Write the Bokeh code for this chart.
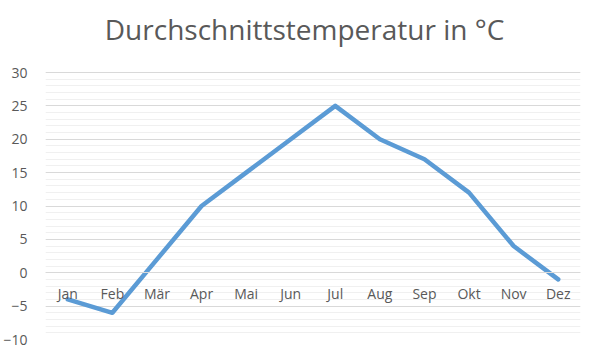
from bokeh.plotting import figure
from bokeh.models import Range1d, FactorRange, FixedTicker, Label
from bokeh.embed import file_html
from bokeh.resources import INLINE

months = ["Jan", "Feb", "Mär", "Apr", "Mai", "Jun", "Jul", "Aug", "Sep", "Okt", "Nov", "Dez"]
temps = [-4, -6, 2, 10, 15, 20, 25, 20, 17, 12, 4, -1]
title_text = "Durchschnittstemperatur in °C"
y_ticks = [-10, -5, 0, 5, 10, 15, 20, 25, 30]
y_min, y_max = -10, 30

FONT = "Open Sans"
TXT = "#595959"

W, H = 597, 357
BL, BR, BB = 43, 17, 18
TOP_GAP = 72          # pixels between canvas top and the 30 line
AXIS_PX = 267         # pixels spanned by -10..30
units_per_px = (y_max - y_min) / AXIS_PX
y_top = y_max + TOP_GAP * units_per_px

p = figure(width=W, height=H, output_backend="svg", toolbar_location=None,
           x_range=FactorRange(*months, range_padding=0), y_range=Range1d(y_min, y_top),
           min_border_left=BL, min_border_right=BR, min_border_top=0, min_border_bottom=BB)
p.outline_line_color = None
p.background_fill_color = "white"
p.border_fill_color = "white"

# title, placed in the space above the 30 line, centred on the chart
p.add_layout(Label(x=(303 - BL) / ((W - BL - BR) / len(months)),
                   y=y_max + 44 * units_per_px,
                   text=title_text, text_align="center", text_baseline="alphabetic",
                   text_font=FONT, text_font_size="28px", text_color=TXT))

p.line(x=months, y=temps, line_color="#5B9BD5", line_width=4.5,
       line_cap="round", line_join="round")

ya = p.yaxis[0]
ya.ticker = FixedTicker(ticks=y_ticks, minor_ticks=list(range(y_min, y_max + 1)))
ya.axis_line_color = None
ya.major_tick_line_color = None
ya.minor_tick_line_color = None
ya.major_label_text_font = FONT
ya.major_label_text_font_size = "14px"
ya.major_label_text_color = TXT
ya.major_label_standoff = 12

xa = p.xaxis[0]
xa.fixed_location = 0
xa.axis_line_color = "#D9D9D9"
xa.major_tick_line_color = None
xa.minor_tick_line_color = None
xa.major_label_text_font = FONT
xa.major_label_text_font_size = "14px"
xa.major_label_text_color = TXT
xa.major_label_standoff = 5

p.xgrid.grid_line_color = None
p.ygrid.grid_line_color = "#D9D9D9"
p.ygrid.minor_grid_line_color = "#F0F0F0"

open("out.html", "w").write(file_html(p, INLINE))
